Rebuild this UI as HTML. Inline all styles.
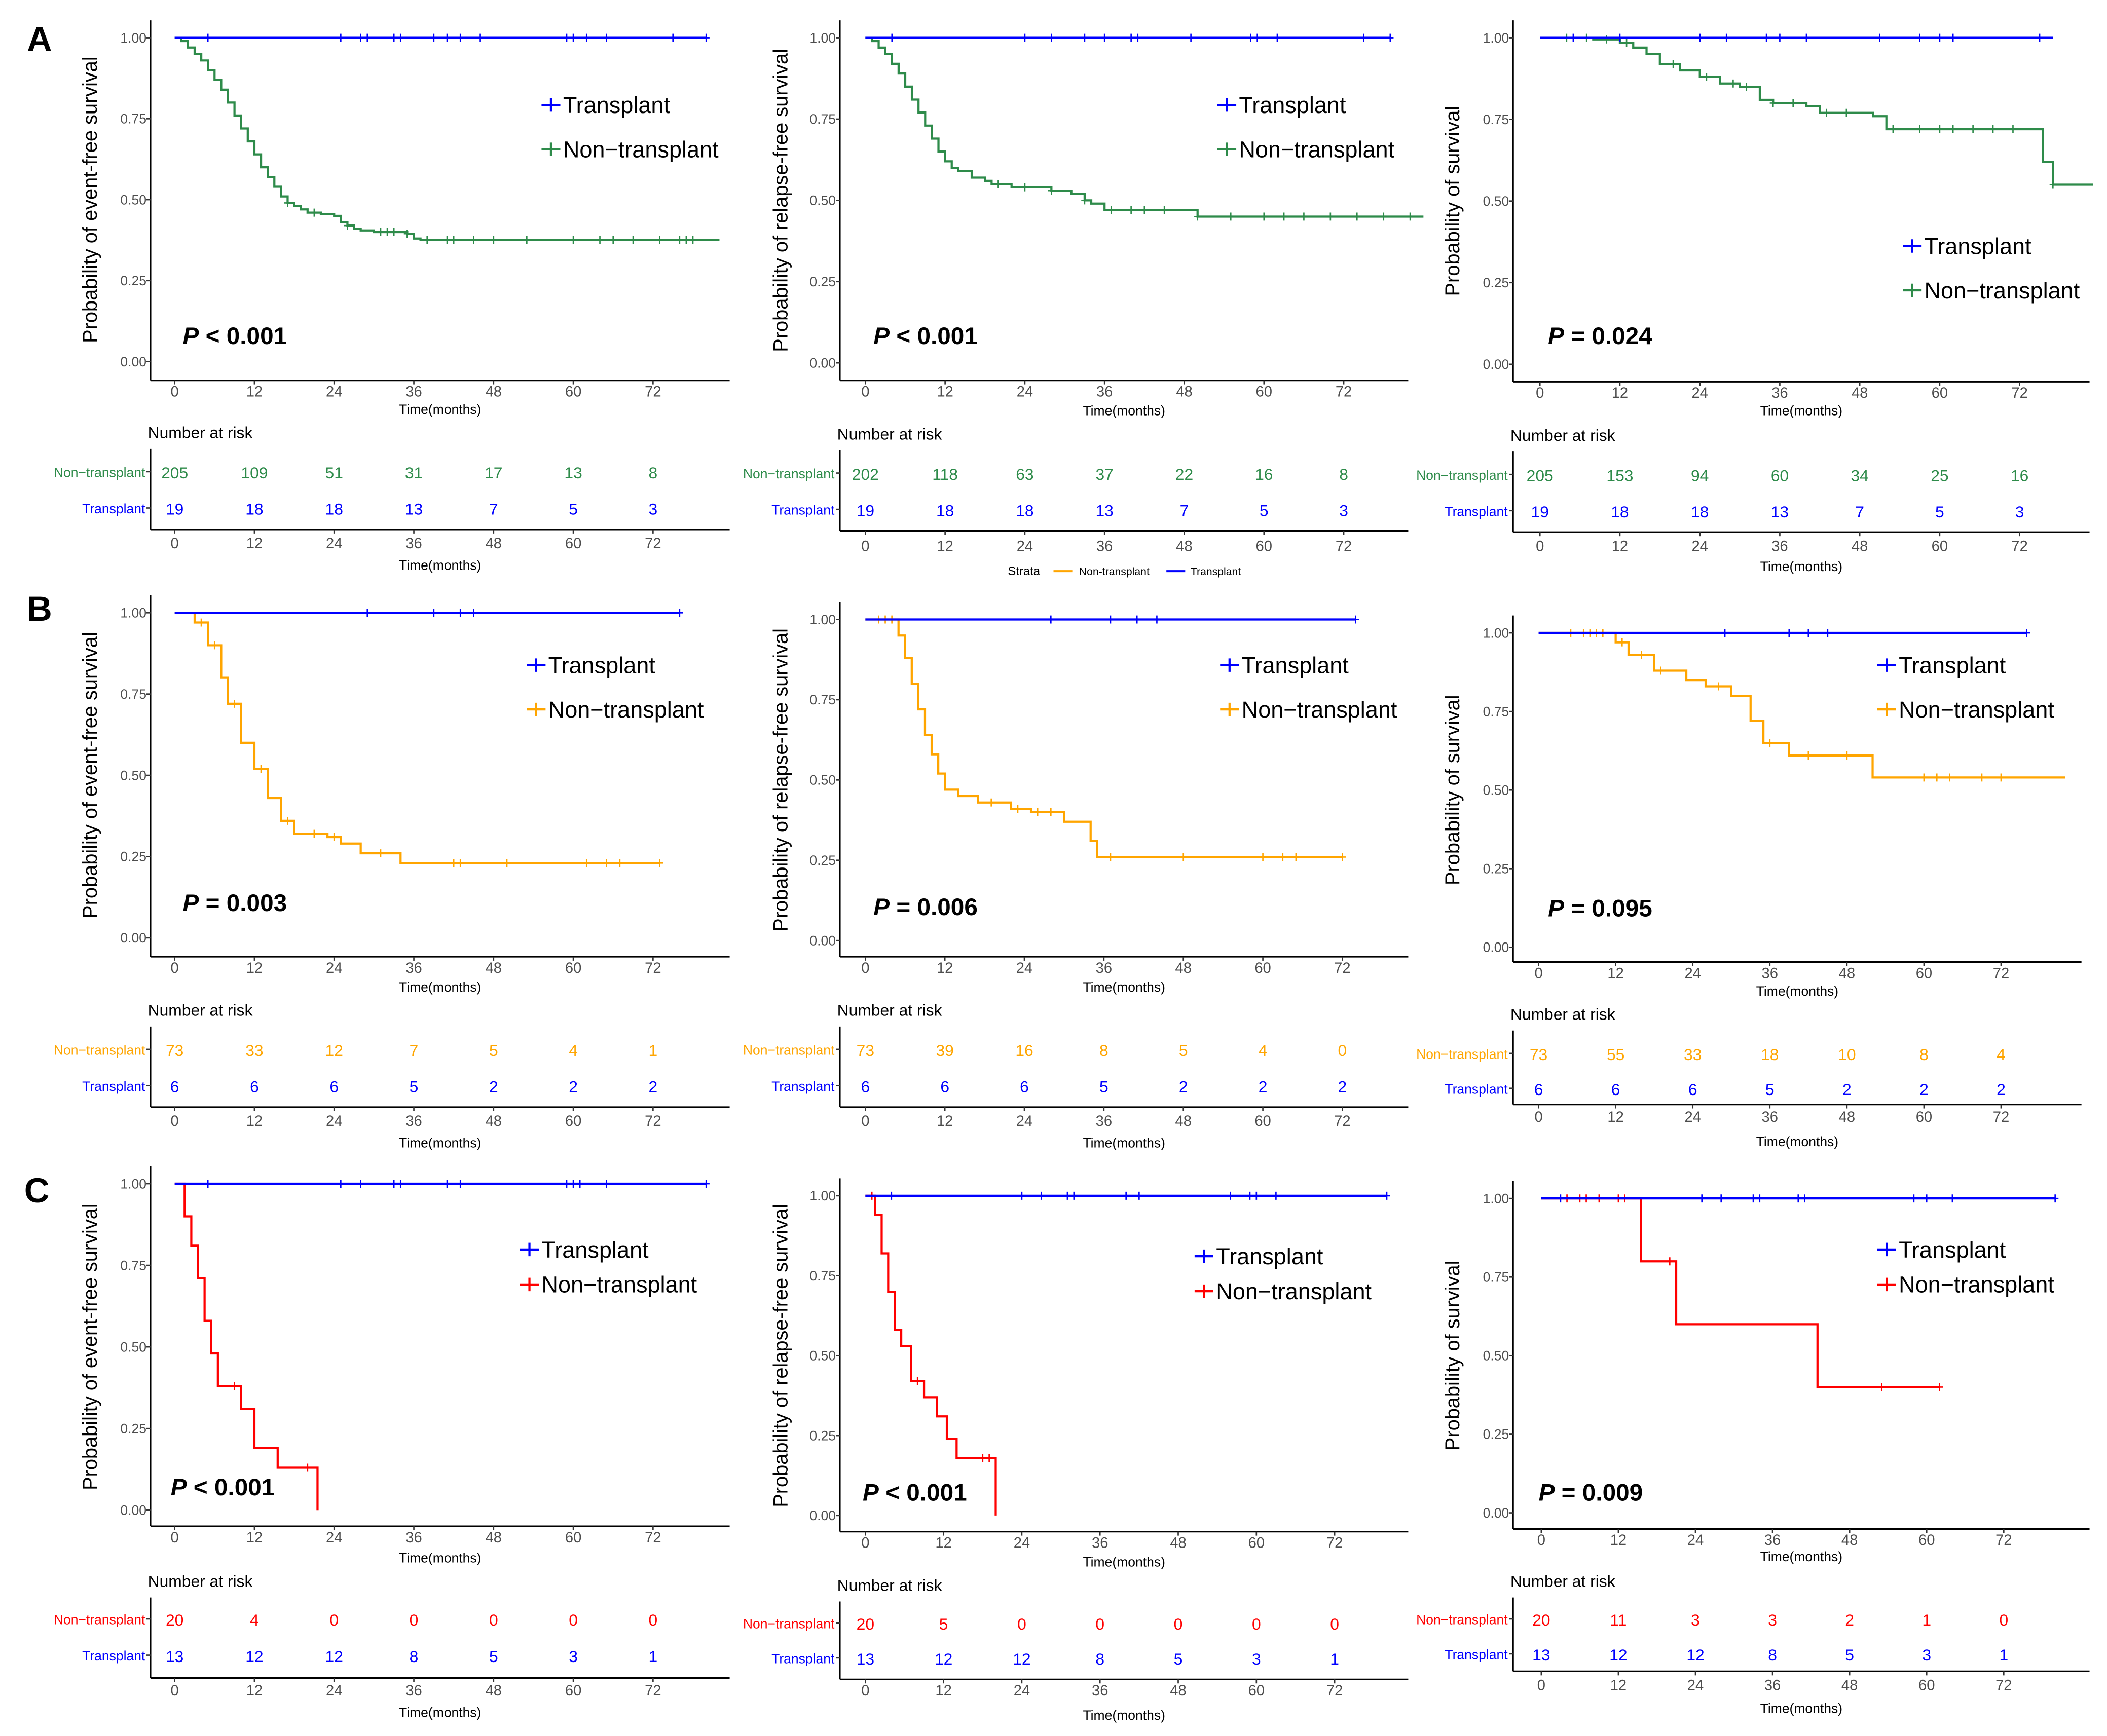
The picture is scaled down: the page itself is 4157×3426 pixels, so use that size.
<!DOCTYPE html>
<html><head><meta charset="utf-8"><style>
html,body{margin:0;padding:0;background:#fff;}
svg{display:block;font-family:"Liberation Sans Narrow","Liberation Sans",sans-serif;}
</style></head><body>
<svg id="fig" width="4157" height="3426" viewBox="0 0 1568 1292" xmlns="http://www.w3.org/2000/svg">
<text x="20" y="38" font-size="26" font-weight="bold" font-family="Liberation Sans,sans-serif">A</text>
<text x="20" y="462" font-size="26" font-weight="bold" font-family="Liberation Sans,sans-serif">B</text>
<text x="18" y="895" font-size="26" font-weight="bold" font-family="Liberation Sans,sans-serif">C</text>
<g>
<text x="750" y="428" font-size="9">Strata</text>
<line x1="784" y1="425" x2="798" y2="425" stroke="#FFA500" stroke-width="1.5"/>
<text x="803" y="428" font-size="8">Non-transplant</text>
<line x1="868" y1="425" x2="882" y2="425" stroke="#0000FF" stroke-width="1.5"/>
<text x="886" y="428" font-size="8">Transplant</text>
</g>
</svg>
<script>
// ---- data (time in months, survival probability) ----
const timeTicks = [0,12,24,36,48,60,72];
const survTicks = [0,0.25,0.5,0.75,1];
const survTickLabels = ["0.00","0.25","0.50","0.75","1.00"];

const a1Non = [[0,1],[1,0.99],[2,0.97],[3,0.95],[4,0.93],[5,0.90],[6,0.87],[7,0.84],[8,0.80],[9,0.76],[10,0.72],[11,0.68],[12,0.64],[13,0.60],[14,0.57],[15,0.54],[16,0.51],[17,0.49],[18,0.48],[19,0.47],[20,0.46],[22,0.455],[24,0.45],[25,0.43],[26,0.42],[27,0.41],[28,0.405],[30,0.40],[35,0.395],[36,0.38],[37,0.375],[82,0.375]];
const a1Tr = [[0,1],[80,1]];
const a1NonCens = [17,21,26,31,32,33,35,38,41,42,45,48,53,60,64,66,69,73,76,77,78];
const a1TrCens = [5,25,28,29,33,34,39,41,43,46,59,60,62,65,75,80];
const a1Risk = [205,109,51,31,17,13,8];
const a1RiskTr = [19,18,18,13,7,5,3];

const a2Non = [[0,1],[1,0.99],[2,0.97],[3,0.95],[4,0.92],[5,0.89],[6,0.85],[7,0.81],[8,0.77],[9,0.73],[10,0.69],[11,0.65],[12,0.62],[13,0.60],[14,0.59],[16,0.57],[18,0.56],[19,0.55],[22,0.54],[28,0.53],[31,0.52],[33,0.50],[34,0.49],[36,0.47],[47,0.47],[50,0.45],[84,0.45]];
const a2Tr = [[0,1],[79,1]];
const a2NonCens = [20,24,28,33,37,40,42,45,50,55,60,63,66,70,74,78,82];
const a2TrCens = [4,24,28,33,36,40,41,49,58,59,62,75,79];
const a2Risk = [202,118,63,37,22,16,8];
const a2RiskTr = [19,18,18,13,7,5,3];

const a3Non = [[0,1],[8,0.995],[12,0.985],[14,0.97],[16,0.95],[18,0.92],[21,0.90],[24,0.88],[27,0.86],[30,0.85],[33,0.81],[35,0.80],[40,0.79],[42,0.77],[50,0.76],[52,0.72],[75,0.72],[75.5,0.62],[77,0.55],[83,0.55]];
const a3Tr = [[0,1],[77,1]];
const a3NonCens = [4,7,10,13,20,25,29,31,35,38,43,46,53,57,60,62,65,68,71,77];
const a3TrCens = [5,12,24,28,34,36,40,51,57,60,62,75];
const a3Risk = [205,153,94,60,34,25,16];
const a3RiskTr = [19,18,18,13,7,5,3];

const b1Non = [[0,1],[3,0.97],[5,0.90],[7,0.80],[8,0.72],[10,0.60],[12,0.52],[14,0.43],[16,0.36],[18,0.32],[23,0.31],[25,0.29],[28,0.26],[33,0.26],[34,0.23],[73,0.23]];
const b1Tr = [[0,1],[76,1]];
const b1NonCens = [4,6,9,13,17,21,24,31,42,43,50,62,65,67,73];
const b1TrCens = [29,39,43,45,76];
const b1Risk = [73,33,12,7,5,4,1];
const b1RiskTr = [6,6,6,5,2,2,2];

const b2Non = [[0,1],[5,0.95],[6,0.88],[7,0.80],[8,0.72],[9,0.64],[10,0.58],[11,0.52],[12,0.47],[14,0.45],[17,0.43],[22,0.41],[25,0.40],[30,0.37],[34,0.31],[35,0.26],[72,0.26]];
const b2Tr = [[0,1],[74,1]];
const b2NonCens = [2,3,4,19,23,26,28,37,48,60,63,65,72];
const b2TrCens = [28,37,41,44,74];
const b2Risk = [73,39,16,8,5,4,0];
const b2RiskTr = [6,6,6,5,2,2,2];

const b3Non = [[0,1],[11,1],[12,0.97],[14,0.93],[18,0.88],[23,0.85],[26,0.83],[30,0.80],[33,0.72],[35,0.65],[39,0.61],[52,0.54],[82,0.54]];
const b3Tr = [[0,1],[76,1]];
const b3NonCens = [5,7,8,9,10,13,16,19,28,36,42,48,60,62,64,69,72];
const b3Tr_cens = [29,39,42,45,76];
const b3Risk = [73,55,33,18,10,8,4];
const b3RiskTr = [6,6,6,5,2,2,2];

const c1Non = [[0,1],[1.5,0.90],[2.5,0.81],[3.5,0.71],[4.5,0.58],[5.5,0.48],[6.5,0.38],[10,0.31],[12,0.19],[15.5,0.13],[21.5,0]];
const c1Tr = [[0,1],[80,1]];
const c1NonCens = [9,20];
const c1TrCens = [5,25,28,33,34,41,43,59,60,61,65,80];
const c1Risk = [20,4,0,0,0,0,0];
const c1RiskTr = [13,12,12,8,5,3,1];

const c2Non = [[0,1],[1.5,0.94],[2.5,0.82],[3.5,0.70],[4.5,0.58],[5.5,0.53],[7,0.42],[9,0.37],[11,0.31],[12.5,0.24],[14,0.18],[20,0]];
const c2Tr = [[0,1],[80,1]];
const c2NonCens = [1,8,18,19];
const c2TrCens = [4,24,27,31,32,40,42,56,59,60,63,80];
const c2Risk = [20,5,0,0,0,0,0];
const c2RiskTr = [13,12,12,8,5,3,1];

const c3Non = [[0,1],[15,1],[15.5,0.80],[21,0.60],[43,0.40],[62,0.40]];
const c3Tr = [[0,1],[80,1]];
const c3NonCens = [4,6,7,9,12,13,20,53,62];
const c3TrCens = [3,25,28,33,34,40,41,58,60,64,80];
const c3Risk = [20,11,3,3,2,1,0];
const c3RiskTr = [13,12,12,8,5,3,1];

// ---- layout ----
const BLUE="#0000FF";
const panels = [
 {id:'a1',non:a1Non,tr:a1Tr,nc:a1NonCens,tc:a1TrCens,rn:a1Risk,rt:a1RiskTr,col:'#2E8B4A',yt:'Probability of event-free survival',p:'< 0.001',
  axL:112,x0:130,ppm:4.944,yT:28,yB:269,axB:283,right:543,xTit:308,nar:322,r1:351,r2:378,tabB:394,tTick:403,tTit:420,yTitX:72,legX:403,legY:78,pX:136,pY:251},
 {id:'a2',non:a2Non,tr:a2Tr,nc:a2NonCens,tc:a2TrCens,rn:a2Risk,rt:a2RiskTr,col:'#2E8B4A',yt:'Probability of relapse-free survival',p:'< 0.001',
  axL:625,x0:644,ppm:4.944,yT:28,yB:270,axB:283,right:1048,xTit:309,nar:323,r1:352,r2:379,tabB:395,tTick:405,tTit:null,yTitX:586,legX:906,legY:78,pX:650,pY:251},
 {id:'a3',non:a3Non,tr:a3Tr,nc:a3NonCens,tc:a3TrCens,rn:a3Risk,rt:a3RiskTr,col:'#2E8B4A',yt:'Probability of survival',p:'= 0.024',
  axL:1126,x0:1146,ppm:4.958,yT:28,yB:271,axB:284,right:1555,xTit:309,nar:324,r1:353,r2:380,tabB:396,tTick:405,tTit:421,yTitX:1086,legX:1416,legY:183,pX:1152,pY:251},
 {id:'b1',non:b1Non,tr:b1Tr,nc:b1NonCens,tc:b1TrCens,rn:b1Risk,rt:b1RiskTr,col:'#FFA500',yt:'Probability of event-free survival',p:'= 0.003',
  axL:112,x0:130,ppm:4.944,yT:456,yB:698,axB:712,right:543,xTit:738,nar:752,r1:781,r2:808,tabB:824,tTick:833,tTit:850,yTitX:72,legX:392,legY:495,pX:136,pY:673},
 {id:'b2',non:b2Non,tr:b2Tr,nc:b2NonCens,tc:b2TrCens,rn:b2Risk,rt:b2RiskTr,col:'#FFA500',yt:'Probability of relapse-free survival',p:'= 0.006',
  axL:625,x0:644,ppm:4.93,yT:461,yB:700,axB:712,right:1048,xTit:738,nar:752,r1:781,r2:808,tabB:824,tTick:833,tTit:850,yTitX:586,legX:908,legY:495,pX:650,pY:676},
 {id:'b3',non:b3Non,tr:b3Tr,nc:b3NonCens,tc:b3Tr_cens,rn:b3Risk,rt:b3RiskTr,col:'#FFA500',yt:'Probability of survival',p:'= 0.095',
  axL:1126,x0:1145,ppm:4.78,yT:471,yB:705,axB:716,right:1549,xTit:741,nar:755,r1:784,r2:810,tabB:822,tTick:830,tTit:849,yTitX:1086,legX:1397,legY:495,pX:1152,pY:677},
 {id:'c1',non:c1Non,tr:c1Tr,nc:c1NonCens,tc:c1TrCens,rn:c1Risk,rt:c1RiskTr,col:'#FF0000',yt:'Probability of event-free survival',p:'< 0.001',
  axL:112,x0:130,ppm:4.944,yT:881,yB:1124,axB:1136,right:543,xTit:1163,nar:1177,r1:1205,r2:1232,tabB:1249,tTick:1257,tTit:1274,yTitX:72,legX:387,legY:930,pX:127,pY:1108},
 {id:'c2',non:c2Non,tr:c2Tr,nc:c2NonCens,tc:c2TrCens,rn:c2Risk,rt:c2RiskTr,col:'#FF0000',yt:'Probability of relapse-free survival',p:'< 0.001',
  axL:625,x0:644,ppm:4.85,yT:890,yB:1128,axB:1140,right:1048,xTit:1166,nar:1180,r1:1208,r2:1234,tabB:1250,tTick:1257,tTit:1276,yTitX:586,legX:889,legY:935,pX:642,pY:1112},
 {id:'c3',non:c3Non,tr:c3Tr,nc:c3NonCens,tc:c3TrCens,rn:c3Risk,rt:c3RiskTr,col:'#FF0000',yt:'Probability of survival',p:'= 0.009',
  axL:1126,x0:1147,ppm:4.78,yT:892,yB:1126,axB:1138,right:1555,xTit:1162,nar:1177,r1:1205,r2:1231,tabB:1244,tTick:1253,tTit:1271,yTitX:1086,legX:1397,legY:930,pX:1145,pY:1112}
];

const NS="http://www.w3.org/2000/svg";
const svg=document.getElementById('fig');
function mk(tag,attrs,parent,text){const e=document.createElementNS(NS,tag);for(const k in attrs)e.setAttribute(k,attrs[k]);if(text!==undefined)e.textContent=text;parent.appendChild(e);return e;}

function stepSurv(data,t){let s=1;for(const d of data){if(d[0]<=t)s=d[1];else break;}return s;}

panels.forEach(P=>{
 const g=mk('g',{},svg);
 
 
 const xs=t=>P.x0+t*P.ppm;
 const ys=s=>P.yB-s*(P.yB-P.yT);
 const ax=mk('g',{stroke:'#000','stroke-width':1.2},g);
 
 
 mk('line',{x1:P.axL,y1:P.yT-13,x2:P.axL,y2:P.axB},ax);
 mk('line',{x1:P.axL,y1:P.axB,x2:P.right,y2:P.axB},ax);
 survTicks.forEach((v,i)=>{
  mk('line',{x1:P.axL-3,y1:ys(v),x2:P.axL,y2:ys(v),stroke:'#333'},g);
  const t=mk('text',{x:P.axL-3,y:ys(v)+3.5,'font-size':10,'text-anchor':'end',fill:'#4d4d4d'},g,survTickLabels[i]);
  
  
 });
 timeTicks.forEach(v=>{
  mk('line',{x1:xs(v),y1:P.axB,x2:xs(v),y2:P.axB+3,stroke:'#333'},g);
  const t=mk('text',{x:xs(v),y:P.axB+12,'font-size':11,'text-anchor':'middle',fill:'#4d4d4d'},g,String(v));
  
  
 });
 const xt=mk('text',{x:(P.axL+P.right)/2,y:P.xTit,'font-size':10,'text-anchor':'middle'},g,'Time(months)');
 
 
 const cy=(P.yT+P.yB)/2;
 const yt=mk('text',{x:P.yTitX,y:cy,'font-size':15,'text-anchor':'middle',transform:`rotate(-90 ${P.yTitX} ${cy})`,'font-family':'Liberation Sans,sans-serif'},g,P.yt);
 
 
 function curve(data,cens,color,name){
  let d=`M${xs(data[0][0])},${ys(data[0][1])}`;
  for(let i=1;i<data.length;i++){d+=`H${xs(data[i][0])}V${ys(data[i][1])}`;}
  const p=mk('path',{d:d,fill:'none',stroke:color,'stroke-width':1.6},g);
  
  
  cens.forEach(t=>{
   const s=stepSurv(data,t);
   const c=mk('path',{d:`M${xs(t)},${ys(s)-3}V${ys(s)+3}M${xs(t)-2.5},${ys(s)}H${xs(t)+2.5}`,stroke:color,'stroke-width':1},g);
   
   
  });
 }
 curve(P.non,P.nc,P.col,'non-transplant-curve');
 curve(P.tr,P.tc,BLUE,'transplant-curve');
 [[BLUE,'Transplant',0],[P.col,'Non\u2212transplant',33]].forEach(([c,l,dy])=>{
  const lg=mk('g',{},g);
  
  
  const y=P.legY+dy-(P.id[0]==='c'?(dy?7:0):0);
  mk('path',{d:`M${P.legX},${y}H${P.legX+14}M${P.legX+7},${y-5}V${y+5}`,stroke:c,'stroke-width':1.6},lg);
  mk('text',{x:P.legX+16,y:y+6,'font-size':17},lg,l);
 });
 const pv=mk('text',{x:P.pX,y:P.pY+5,'font-size':18,'font-weight':'bold'},g);
 
 
 mk('tspan',{'font-style':'italic'},pv,'P');
 mk('tspan',{},pv,' '+P.p);
 const tb=mk('g',{},g);
 
 
 mk('text',{x:P.axL-2,y:P.nar+4,'font-size':12},tb,'Number at risk');
 mk('line',{x1:P.axL,y1:P.nar+12,x2:P.axL,y2:P.tabB,stroke:'#000','stroke-width':1.2},tb);
 mk('line',{x1:P.axL,y1:P.tabB,x2:P.right,y2:P.tabB,stroke:'#000','stroke-width':1.2},tb);
 [[P.r1,P.col,'Non\u2212transplant',P.rn],[P.r2,BLUE,'Transplant',P.rt]].forEach(([y,c,l,arr])=>{
  mk('line',{x1:P.axL-3,y1:y,x2:P.axL,y2:y,stroke:'#333'},tb);
  mk('text',{x:P.axL-4,y:y+4,'font-size':10,'text-anchor':'end',fill:c},tb,l);
  arr.forEach((n,i)=>{
   const t=mk('text',{x:xs(timeTicks[i]),y:y+5,'font-size':12,'text-anchor':'middle',fill:c},tb,String(n));
   
   
  });
 });
 timeTicks.forEach(v=>{
  mk('line',{x1:xs(v),y1:P.tabB,x2:xs(v),y2:P.tabB+3,stroke:'#333'},tb);
  mk('text',{x:xs(v),y:P.tTick+5,'font-size':11,'text-anchor':'middle',fill:'#4d4d4d'},tb,String(v));
 });
 if(P.tTit)mk('text',{x:(P.axL+P.right)/2,y:P.tTit+4,'font-size':10,'text-anchor':'middle'},tb,'Time(months)');
});
</script>
</body></html>
